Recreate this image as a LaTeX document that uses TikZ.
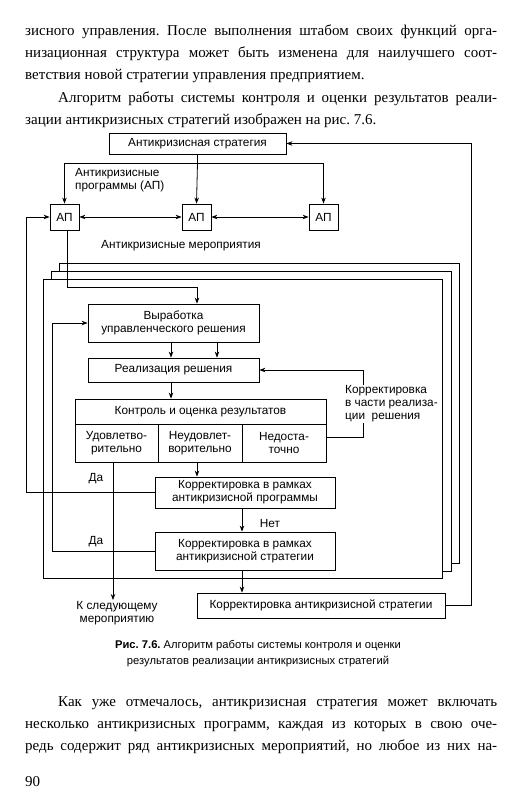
\documentclass[tikz,border=0pt]{standalone}
\usepackage{fontspec}
\setmainfont{Liberation Serif}
\newfontfamily\schemefont{Liberation Sans}
\usetikzlibrary{arrows.meta, positioning, calc}
\frenchspacing

\begin{document}
\begin{tikzpicture}[x=1pt, y=-1pt, font=\schemefont\fontsize{11.8}{13}\selectfont]
	\tikzstyle{block} = [rectangle, draw=black, line width=0.8pt, fill=white, align=center, inner sep=1pt]
	\tikzstyle{wire} = [line width=0.8pt]
	\tikzstyle{arrow} = [line width=0.8pt, -{Stealth[length=6pt, width=4.5pt]}]
	\tikzstyle{both} = [line width=0.8pt, {Stealth[length=6pt, width=4.5pt]}-{Stealth[length=6pt, width=4.5pt]}]
	\tikzstyle{sheet} = [line width=0.8pt, draw=black, fill=white]
	\tikzstyle{note} = [inner sep=1pt, align=left]
	\tikzstyle{bodytext} = [anchor=base west, inner sep=0pt, font=\rmfamily\fontsize{15}{22}\selectfont]
	
	\fill[white] (0,0) rectangle (518,800);
	\useasboundingbox (0,0) rectangle (518,800);
	
	% Text above the figure
	\node[bodytext] (top1) at (25,36) {\makebox[472pt][s]{зисного управления. После выполнения штабом своих функций орга-}};
	\node[bodytext] (top2) at (25,58) {\makebox[472pt][s]{низационная структура может быть изменена для наилучшего соот-}};
	\node[bodytext] (top3) at (25,80) {ветствия новой стратегии управления предприятием.};
	\node[bodytext] (top4) at (58,102) {\makebox[439pt][s]{Алгоритм работы системы контроля и оценки результатов реали-}};
	\node[bodytext] (top5) at (25,124) {зации антикризисных стратегий изображен на рис. 7.6.};
	
	% Strategy and programmes
	\node[block, minimum width=177pt, minimum height=21pt] (strat) at (197.5,143.5) {Антикризисная стратегия};
	\node[block, minimum width=29pt, minimum height=26pt] (ap1) at (64.5,217) {АП};
	\node[block, minimum width=29pt, minimum height=26pt] (ap2) at (196.5,217) {АП};
	\node[block, minimum width=29pt, minimum height=26pt] (ap3) at (323.5,217) {АП};
	\node[note, anchor=west] (apnote) at (74,180) {Антикризисные\\программы (АП)};
	\node[note] (events) at (181,246) {Антикризисные мероприятия};
	
	% Stacked sheets
	\draw[sheet] (59,263) rectangle (459,563);
	\draw[sheet] (51,271) rectangle (451,571);
	\draw[sheet] (43,279) rectangle (442,578);
	
	% Nodes inside the front sheet
	\node[block, minimum width=171pt, minimum height=38pt] (devise) at (173.5,323) {Выработка\\управленческого решения};
	\node[block, minimum width=171pt, minimum height=24pt] (implement) at (173.5,370) {Реализация решения};
	\node[block, minimum width=251pt, minimum height=25pt] (control) at (200.5,411.5) {Контроль и оценка результатов};
	\node[block, minimum width=83pt, minimum height=38pt] (good) at (116.5,443) {Удовлетво-\\рительно};
	\node[block, minimum width=84pt, minimum height=38pt] (bad) at (200,443) {Неудовлет-\\ворительно};
	\node[block, minimum width=84pt, minimum height=38pt] (poor) at (284,443) {Недоста-\\точно};
	\node[note, anchor=west] (partfix) at (344,404) {Корректировка\\в части реализа-\\ции\ \ решения};
	\node[block, minimum width=180pt, minimum height=31pt] (fixprog) at (245,492.5) {Корректировка в рамках\\антикризисной программы};
	\node[block, minimum width=180pt, minimum height=38pt] (fixstrat) at (245,551) {Корректировка в рамках\\антикризисной стратегии};
	\node[block, minimum width=248pt, minimum height=25pt] (newstrat) at (321,605.5) {Корректировка антикризисной стратегии};
	\node[note, align=center] (nextstep) at (117,613) {К следующему\\мероприятию};
	\node[note] (yesA) at (96,479) {Да};
	\node[note] (yesB) at (96,542) {Да};
	\node[note] (no) at (270,523) {Нет};
	
	% Caption
	\node[font=\schemefont\fontsize{11.2}{16}\selectfont, align=center] (caption) at (258,654) {\textbf{Рис. 7.6.} Алгоритм работы системы контроля и оценки\\результатов реализации антикризисных стратегий};
	
	% Text below the figure
	\node[bodytext] (low1) at (58,706) {\makebox[439pt][s]{Как уже отмечалось, антикризисная стратегия может включать}};
	\node[bodytext] (low2) at (25,728) {\makebox[472pt][s]{несколько антикризисных программ, каждая из которых в свою оче-}};
	\node[bodytext] (low3) at (25,750) {\makebox[472pt][s]{редь содержит ряд антикризисных мероприятий, но любое из них на-}};
	\node[bodytext] (pagenum) at (25,786) {90};
	
	% Arrows
	\coordinate (split) at (197.5,163);
	\draw[wire] (strat.south) -- (split);
	\draw[arrow] (split) -| (ap1.north);
	\draw[arrow] (split) -- (ap2.north);
	\draw[arrow] (split) -| (ap3.north);
	\draw[both] (ap1.east) -- (ap2.west);
	\draw[both] (ap2.east) -- (ap3.west);
	
	\coordinate (drop) at (197,287);
	\draw[arrow] ([xshift=2.5pt]ap1.south) |- (drop) -- (devise.north -| drop);
	\draw[arrow] (devise.south -| 171,0) -- (implement.north -| 171,0);
	\draw[arrow] (devise.south -| 217,0) -- (implement.north -| 217,0);
	\draw[arrow] (implement.south -| 171,0) -- (control.north -| 171,0);
	\draw[arrow] (bad.south -| 197,0) -- (fixprog.north -| 197,0);
	\draw[arrow] (good.south -| 113,0) -- (nextstep.north -| 113,0);
	\draw[arrow] (fixprog.south -| 242,0) -- (fixstrat.north -| 242,0);
	\draw[arrow] (fixstrat.south -| 242,0) -- (newstrat.north -| 242,0);
	
	% Feedback loops
	\draw[wire] ([yshift=6pt]poor.east) -| (partfix.south -| 363,0);
	\draw[arrow] (partfix.north -| 363,0) |- (implement.east);
	\coordinate (backA) at (26,217);
	\draw[arrow] (fixprog.west) -| (backA) -- (ap1.west);
	\coordinate (backB) at (52,323);
	\draw[arrow] (fixstrat.west) -| (backB) -- (devise.west);
	\coordinate (backC) at (471,143.5);
	\draw[arrow] (newstrat.east) -| (backC) -- (strat.east);
	
\end{tikzpicture}
\end{document}
